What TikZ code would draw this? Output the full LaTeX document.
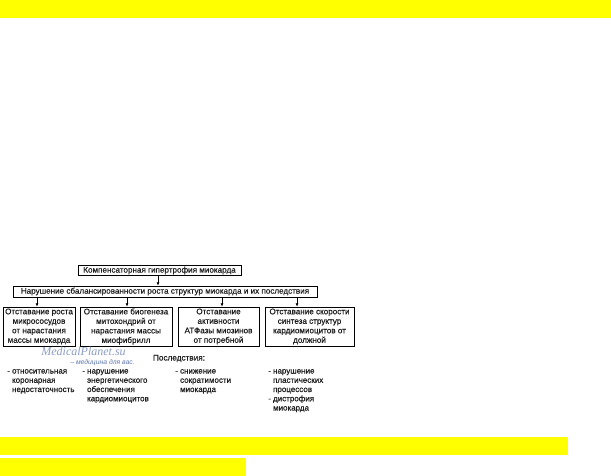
\documentclass[tikz,border=0pt]{standalone}
\usepackage{fontspec}
\setmainfont{Liberation Sans}
\newfontfamily\semib[FakeBold=0.5]{Liberation Sans}
\newfontfamily\wmserif{Liberation Serif}
\usetikzlibrary{arrows.meta}
\definecolor{barY}{RGB}{255,255,0}
\definecolor{wmA}{RGB}{140,158,196}
\definecolor{wmB}{RGB}{95,120,175}
\definecolor{txt}{RGB}{30,30,30}
\tikzset{
  x=1pt,y=1pt,
  bar/.style={fill=barY,draw=none},
  hbox/.style={draw=black,line width=0.8pt,inner sep=0pt,align=center,text=txt,
    font=\semib\fontsize{8.1}{9.5}\selectfont},
  cbox/.style={hbox,minimum height=39pt},
  arr/.style={line width=0.8pt,-{Latex[length=3.2pt,width=3pt]}},
  cons/.style={anchor=north west,inner sep=0pt,align=left,text=txt,
    font=\semib\fontsize{8}{9.25}\selectfont},
}
\begin{document}
\begin{tikzpicture}
\useasboundingbox (0,0) rectangle (611,-476);
\fill[white] (0,0) rectangle (611,-476);
% yellow bars
\fill[bar] (0,0) rectangle (611,-18);
\fill[bar] (0,-437) rectangle (568,-455);
\fill[bar] (0,-457.5) rectangle (246,-476);
% boxes
\node[hbox,minimum width=163pt,minimum height=10pt] (top) at (159.5,-270.5)
  {Компенсаторная гипертрофия миокарда};
\node[hbox,minimum width=304pt,minimum height=11pt] (sec) at (165,-291.5)
  {Нарушение сбалансированности роста структур миокарда и их последствия};
\node[cbox,minimum width=72pt] (b1) at (39,-326.5)
  {Отставание роста\\микрососудов\\от нарастания\\массы миокарда};
\node[cbox,minimum width=92pt] (b2) at (126,-326.5)
  {Отставание биогенеза\\митохондрий от\\нарастания массы\\миофибрилл};
\node[cbox,minimum width=81pt] (b3) at (218.5,-326.5)
  {Отставание\\активности\\АТФазы миозинов\\от потребной};
\node[cbox,minimum width=89pt] (b4) at (309.5,-326.5)
  {Отставание скорости\\синтеза структур\\кардиомиоцитов от\\должной};
% arrows
\draw[arr] ([xshift=-1.5pt]top.south) -- ([xshift=-1.5pt]top.south |- sec.north);
\draw[arr] ([xshift=-2pt]b1.north |- sec.south) -- ([xshift=-2pt]b1.north);
\draw[arr] ([xshift=1pt]b2.north |- sec.south) -- ([xshift=1pt]b2.north);
\draw[arr] ([xshift=3.5pt]b3.north |- sec.south) -- ([xshift=3.5pt]b3.north);
\draw[arr] ([xshift=-12.5pt]b4.north |- sec.south) -- ([xshift=-12.5pt]b4.north);
% watermark
\node[inner sep=0pt,text=wmA,font=\wmserif\itshape\fontsize{12}{12}\selectfont] (wm1) at (83.5,-351) {MedicalPlanet.su};
\node[inner sep=0pt,text=wmB,font=\itshape\fontsize{6.8}{7}\selectfont] (wm2) at (102.5,-362.5) {– медицина для вас.};
% consequences
\node[inner sep=0pt,text=txt,font=\semib\fontsize{8.2}{9}\selectfont] (pos) at (179,-358.5) {Последствия:};
\node[cons] (c1) at (7,-369) {- относительная\\\hphantom{- }коронарная\\\hphantom{- }недостаточность};
\node[cons] (c2) at (82,-369) {- нарушение\\\hphantom{- }энергетического\\\hphantom{- }обеспечения\\\hphantom{- }кардиомиоцитов};
\node[cons] (c3) at (175,-369) {- снижение\\\hphantom{- }сократимости\\\hphantom{- }миокарда};
\node[cons] (c4) at (268,-369) {- нарушение\\\hphantom{- }пластических\\\hphantom{- }процессов\\- дистрофия\\\hphantom{- }миокарда};
\end{tikzpicture}
\end{document}
